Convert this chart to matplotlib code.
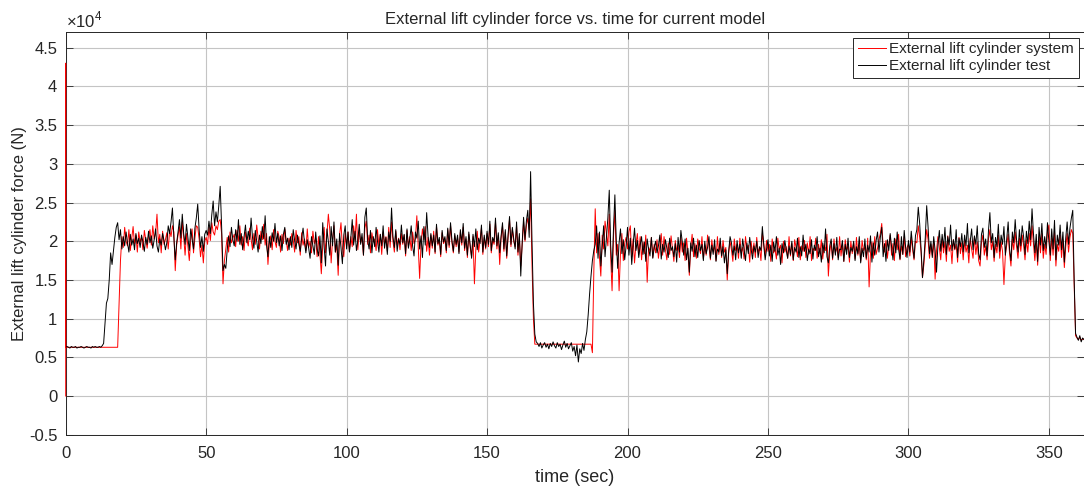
import numpy as np
import matplotlib.pyplot as plt

plt.rcParams['font.family'] = ['Liberation Sans', 'DejaVu Sans']
plt.rcParams['mathtext.fontset'] = 'custom'
plt.rcParams['mathtext.rm'] = 'Liberation Sans'

# sample step of both records (sec)
dt = 0.5

# measured force, kN, one line = 10 s
test_force = [
    6.3, 6.4, 6.3, 6.2, 6.4, 6.3, 6.3, 6.4, 6.2, 6.3, 6.3, 6.4, 6.3, 6.2, 6.3, 6.4, 6.3, 6.3, 6.2, 6.4,
    6.3, 6.4, 6.3, 6.3, 6.4, 6.3, 6.5, 6.8, 9.5, 12.0, 12.6, 15.0, 18.5, 17.0, 18.8, 20.5, 21.8, 22.4, 20.2, 21.5,
    19.0, 20.6, 19.4, 21.2, 19.8, 18.6, 20.9, 19.5, 20.3, 18.9, 21.0, 19.7, 20.4, 19.2, 20.8, 19.9, 18.7, 20.5, 19.6, 21.3,
    19.8, 20.7, 19.1, 20.2, 21.6, 19.4, 18.6, 20.3, 19.5, 21.0, 20.1, 18.9, 19.8, 22.0, 21.0, 22.5, 24.3, 20.5, 17.6, 19.8,
    21.2, 22.8, 20.4, 23.5, 21.0, 19.6, 22.2, 20.5, 18.8, 21.6, 20.3, 19.0, 21.7, 23.0, 24.8, 21.5, 19.2, 20.6, 18.7, 20.9,
    21.4, 20.8, 22.6, 21.0, 23.4, 25.2, 22.0, 23.8, 22.5, 24.6, 27.1, 22.0, 16.2, 17.0, 16.5, 18.9, 20.7, 19.3, 21.8, 20.2,
    19.4, 21.5, 20.0, 22.8, 19.6, 21.0, 18.9, 20.6, 22.1, 19.8, 21.3, 20.2, 23.0, 20.5, 19.1, 21.4, 20.0, 18.6, 20.8, 19.7,
    21.9, 20.3, 23.3, 19.5, 18.0, 20.6, 19.2, 21.1, 20.0, 22.3, 19.8, 21.0, 19.4, 20.7, 18.8, 20.9, 21.8, 19.6, 20.4, 18.9,
    20.6, 19.2, 21.5, 20.1, 19.0, 20.8, 19.6, 18.7, 20.4, 21.7, 19.9, 18.5, 20.2, 19.1, 17.8, 20.6, 19.4, 18.3, 21.2, 19.0,
    18.1, 20.7, 17.2, 22.4, 19.3, 16.8, 21.6, 20.0, 18.2, 21.9, 19.4, 22.5, 18.6, 20.3, 16.9, 21.0, 19.2, 17.1, 20.8, 22.0,
    19.0, 21.2, 18.6, 20.4, 22.8, 19.5, 21.3, 18.8, 20.1, 22.2, 19.6, 21.0, 18.2, 23.1, 24.3, 20.2, 19.0, 21.4, 18.5, 20.6,
    19.3, 21.8, 20.0, 18.6, 20.9, 19.4, 22.0, 19.1, 20.5, 18.3, 21.2, 20.0, 24.3, 20.6, 19.2, 21.5, 18.7, 20.3, 19.6, 22.1,
    19.8, 20.9, 18.4, 21.6, 19.1, 20.3, 22.0, 19.4, 18.1, 21.2, 20.4, 22.6, 19.0, 20.7, 17.9, 21.9, 19.5, 23.7, 20.6, 19.2,
    21.0, 19.4, 20.8, 18.6, 22.2, 19.7, 20.5, 18.3, 21.4, 19.9, 20.6, 18.8, 21.7, 19.5, 22.4, 20.1, 18.7, 21.0, 19.6, 20.8,
    18.4, 21.5, 19.8, 22.3, 19.1, 20.6, 18.2, 21.2, 19.5, 17.8, 20.9, 19.3, 21.6, 18.9, 20.4, 19.7, 22.1, 18.6, 20.8, 19.2,
    21.3, 19.6, 22.6, 18.8, 20.5, 19.9, 23.0, 19.4, 21.1, 18.5, 20.7, 22.4, 19.0, 21.5, 18.1, 20.9, 23.2, 19.6, 21.8, 20.3,
    19.0, 22.5, 18.6, 21.0, 15.5, 19.8, 23.1, 20.2, 22.6, 24.0, 20.5, 29.0, 20.0, 12.0, 8.0, 7.0, 6.8, 6.4, 6.9, 6.2,
    6.6, 6.9, 6.3, 6.7, 6.1, 6.8, 6.4, 7.0, 6.5, 6.2, 6.9, 6.4, 6.7, 6.0, 6.6, 7.1, 6.3, 6.8, 6.1, 6.5,
    6.9, 5.8, 6.4, 5.2, 6.6, 4.4, 6.1, 5.5, 6.8, 5.9, 7.3, 8.3, 10.5, 13.2, 15.5, 17.5, 18.8, 19.6, 22.0, 17.8,
    21.2, 16.8, 19.5, 22.0, 18.0, 20.5, 23.0, 26.6, 19.5, 16.0, 21.5, 26.0, 20.0, 16.5, 19.8, 21.6, 18.4, 20.2, 17.6, 19.4,
    21.8, 18.2, 20.4, 17.0, 19.6, 21.7, 18.8, 20.1, 17.9, 19.5, 20.6, 18.3, 19.9, 17.4, 20.3, 19.0, 18.1, 20.5, 17.8, 19.2,
    20.0, 18.5, 19.4, 20.8, 17.7, 19.6, 18.6, 20.2, 19.1, 17.9, 20.4, 18.8, 19.3, 18.0, 19.7, 17.3, 20.5, 18.6, 21.4, 19.9,
    18.2, 20.3, 17.6, 19.1, 16.0, 19.8, 18.7, 20.4, 18.0, 19.5, 17.9, 20.1, 18.8, 19.6, 17.5, 20.0, 18.4, 19.2, 20.6, 17.8,
    19.5, 18.3, 20.2, 17.4, 19.0, 18.6, 20.4, 18.1, 19.3, 17.2, 18.9, 15.8, 18.7, 20.6, 19.8, 18.2, 19.4, 17.6, 20.1, 18.5,
    19.6, 17.8, 20.3, 18.9, 17.5, 19.8, 18.4, 20.5, 19.0, 17.7, 19.4, 18.6, 20.0, 17.9, 19.3, 18.8, 21.9, 19.5, 17.6, 19.0,
    20.2, 18.1, 19.5, 17.4, 19.9, 18.7, 20.6, 18.2, 19.1, 17.0, 19.7, 18.5, 20.1, 18.9, 17.8, 19.4, 18.3, 20.0, 17.6, 19.2,
    18.6, 20.4, 17.9, 19.3, 18.1, 20.8, 18.7, 19.6, 17.5, 19.0, 18.4, 20.2, 17.7, 19.5, 18.8, 20.6, 18.0, 19.1, 17.3, 19.8,
    18.5, 21.6, 18.0, 17.2, 19.4, 20.3, 17.8, 19.7, 18.2, 20.5, 17.6, 19.0, 18.9, 20.1, 17.4, 19.6, 18.3, 20.4, 17.9, 19.2,
    18.7, 20.0, 17.5, 19.3, 18.4, 20.6, 17.2, 19.1, 18.0, 20.3, 17.8, 19.5, 18.6, 20.7, 17.3, 19.8, 18.2, 20.1, 21.2, 18.6,
    20.5, 21.8, 18.0, 19.7, 17.4, 20.2, 18.8, 21.0, 19.3, 17.6, 20.4, 18.5, 21.2, 19.0, 17.7, 20.6, 18.3, 21.4, 19.2, 17.9,
    20.1, 18.6, 21.3, 19.4, 17.8, 20.7, 21.5, 24.4, 22.3, 19.0, 15.3, 17.6, 20.5, 24.6, 21.8, 18.4, 20.0, 17.9, 20.6, 18.8,
    16.0, 19.5, 21.4, 18.7, 20.9, 19.2, 21.8, 18.3, 20.6, 19.5, 22.1, 18.8, 20.2, 19.0, 21.5, 17.9, 20.4, 19.3, 21.0, 18.6,
    20.8, 19.4, 22.3, 18.5, 20.1, 21.6, 18.9, 20.7, 19.6, 22.0, 18.4, 17.6, 20.9, 21.7, 19.2, 20.3, 18.1, 21.4, 23.7, 19.8,
    21.0, 17.9, 20.5, 19.3, 22.2, 18.7, 20.8, 19.6, 21.9, 18.2, 20.4, 22.5, 19.0, 17.5, 21.2, 19.8, 22.8, 20.1, 18.6, 21.5,
    19.4, 22.0, 20.6, 18.3, 21.3, 19.7, 22.6, 20.2, 24.2, 21.0, 18.5, 20.9, 17.4, 21.8, 19.5, 22.3, 18.8, 20.6, 19.1, 22.4,
    20.0, 18.2, 21.6, 19.0, 22.7, 17.6, 20.8, 19.5, 22.1, 18.9, 21.2, 17.3, 20.4, 22.5, 19.6, 21.7, 23.0, 24.0, 15.0, 8.1,
    7.6, 7.2, 7.8, 7.0, 7.5, 7.3,
]

# model force, kN, same time base
system_force = [
    6.3, 6.3, 6.3, 6.3, 6.3, 6.3, 6.3, 6.3, 6.3, 6.3, 6.3, 6.3, 6.3, 6.3, 6.3, 6.3, 6.3, 6.3, 6.3, 6.3,
    6.3, 6.3, 6.3, 6.3, 6.3, 6.3, 6.3, 6.3, 6.3, 6.3, 6.3, 6.3, 6.3, 6.3, 6.3, 6.3, 6.3, 6.3, 12.0, 17.5,
    20.6, 19.2, 21.8, 20.0, 19.4, 21.5, 18.8, 20.3, 21.9, 19.6, 20.8, 18.6, 21.2, 19.9, 20.5, 18.9, 21.4, 20.2, 19.1, 20.7,
    21.5, 19.5, 22.0, 20.3, 21.0, 23.5, 19.8, 20.9, 18.5, 21.3, 19.6, 20.2, 21.1, 19.0, 21.4, 20.6, 22.0, 21.2, 16.2, 19.5,
    20.8, 21.9, 19.0, 22.5, 20.6, 18.2, 21.0, 19.4, 17.5, 20.2, 21.6, 18.5, 20.4, 22.0, 21.8, 20.3, 18.0, 19.5, 17.2, 20.0,
    20.5, 19.6, 21.8, 20.1, 22.4, 21.2, 20.8, 22.0, 21.5, 22.6, 22.8, 21.0, 14.5, 17.5, 19.0, 20.5, 18.6, 21.2, 19.8, 20.4,
    20.9, 19.3, 21.4, 20.0, 22.0, 19.5, 20.6, 18.8, 21.2, 20.1, 19.4, 21.7, 20.3, 18.9, 21.0, 19.6, 22.1, 20.4, 19.0, 21.3,
    20.2, 22.2, 19.5, 21.0, 17.0, 19.8, 20.7, 18.9, 21.5, 20.0, 19.2, 21.3, 20.5, 18.6, 20.9, 19.7, 21.6, 20.1, 18.8, 20.4,
    19.5, 21.0, 20.2, 18.6, 21.4, 19.8, 20.6, 18.2, 21.1, 19.5, 20.3, 18.8, 21.6, 19.2, 20.0, 18.5, 21.3, 19.7, 20.4, 18.0,
    20.6, 18.4, 15.8, 19.4, 21.8, 18.5, 20.9, 23.5, 21.5, 17.2, 20.2, 22.0, 18.6, 19.5, 15.6, 20.8, 22.4, 19.2, 18.0, 21.0,
    19.4, 21.2, 18.7, 20.6, 19.3, 22.0, 20.1, 23.5, 18.9, 21.4, 19.8, 20.5, 18.2, 21.7, 22.6, 19.6, 20.8, 18.5, 21.1, 19.9,
    20.3, 18.8, 21.5, 19.4, 20.9, 18.3, 21.2, 19.7, 20.6, 18.7, 21.8, 19.2, 22.5, 20.0, 18.6, 21.3, 19.5, 20.4, 18.9, 21.0,
    19.6, 20.8, 18.1, 21.4, 19.3, 20.6, 18.8, 21.2, 19.7, 20.3, 23.3, 19.1, 15.2, 19.8, 21.6, 20.2, 21.9, 18.7, 20.5, 18.2,
    20.8, 19.1, 21.3, 18.4, 21.9, 19.5, 20.2, 18.0, 21.1, 19.7, 20.3, 18.5, 21.5, 19.2, 22.0, 19.8, 18.5, 20.7, 19.3, 20.5,
    18.6, 21.2, 19.5, 21.8, 18.8, 20.3, 17.9, 20.9, 19.2, 18.0, 20.6, 14.5, 19.0, 21.3, 18.6, 20.1, 21.7, 18.3, 20.5, 19.0,
    21.0, 19.3, 22.2, 18.5, 20.2, 19.6, 22.5, 19.0, 20.8, 17.0, 20.4, 22.0, 18.7, 21.2, 17.8, 20.6, 22.8, 19.3, 21.5, 20.0,
    19.3, 22.0, 18.2, 20.6, 16.8, 19.5, 22.5, 20.0, 22.0, 23.0, 21.5, 25.5, 17.0, 10.0, 6.7, 6.7, 6.7, 6.7, 6.7, 6.7,
    6.7, 6.7, 6.7, 6.7, 6.7, 6.7, 6.7, 6.7, 6.7, 6.7, 6.7, 6.7, 6.7, 6.7, 6.7, 6.7, 6.7, 6.7, 6.7, 6.7,
    6.7, 6.7, 6.7, 6.7, 6.7, 6.7, 6.7, 6.7, 6.7, 6.7, 6.7, 6.7, 6.7, 6.7, 6.7, 5.6, 16.0, 24.2, 18.5, 21.0,
    18.0, 15.5, 20.8, 19.0, 22.6, 21.0, 19.4, 23.5, 18.0, 13.6, 20.5, 24.0, 18.2, 19.6, 13.6, 18.5, 21.0, 17.5, 19.8, 20.5,
    19.0, 21.2, 22.0, 18.0, 20.3, 17.2, 19.6, 21.0, 18.3, 20.6, 17.6, 19.9, 18.4, 20.8, 14.7, 19.2, 18.7, 20.5, 17.9, 19.6,
    18.5, 20.2, 17.8, 19.4, 21.0, 18.2, 20.6, 18.9, 17.6, 19.8, 18.3, 20.7, 19.0, 17.4, 20.1, 18.8, 19.5, 17.9, 20.5, 18.6,
    19.8, 17.5, 20.4, 18.6, 15.6, 19.2, 20.9, 18.0, 19.7, 17.8, 20.3, 19.1, 18.4, 20.6, 17.7, 19.5, 18.2, 20.8, 19.3, 17.6,
    20.2, 18.7, 19.4, 17.5, 20.6, 18.3, 19.8, 17.9, 20.1, 18.6, 19.2, 15.0, 18.4, 20.0, 18.9, 17.4, 20.3, 18.8, 19.6, 17.8,
    20.4, 18.5, 19.2, 17.7, 20.6, 18.9, 19.5, 17.3, 20.0, 18.4, 19.8, 17.9, 20.5, 18.6, 19.1, 17.5, 21.0, 19.7, 18.2, 20.1,
    18.7, 19.6, 17.4, 20.3, 18.5, 19.0, 17.7, 20.4, 18.9, 19.5, 17.2, 20.0, 18.6, 19.3, 17.8, 20.6, 18.1, 19.7, 17.5, 20.2,
    19.2, 18.0, 20.5, 17.6, 19.4, 18.7, 20.1, 17.9, 19.8, 18.3, 20.6, 17.5, 19.1, 18.8, 20.4, 17.8, 19.6, 18.4, 20.2, 17.7,
    19.5, 18.8, 20.9, 15.5, 18.6, 19.9, 17.6, 20.3, 18.5, 19.2, 17.9, 20.6, 18.1, 19.7, 17.4, 20.2, 18.9, 19.4, 17.3, 20.0,
    18.4, 19.8, 17.7, 20.5, 18.2, 19.5, 17.4, 20.1, 18.8, 19.3, 17.6, 20.4, 14.1, 18.5, 19.9, 17.8, 20.6, 18.3, 19.1, 20.2,
    21.0, 22.3, 19.4, 18.6, 20.1, 17.8, 19.5, 20.8, 18.2, 19.7, 17.5, 20.3, 18.9, 20.9, 17.6, 19.4, 18.3, 20.6, 18.0, 19.2,
    19.6, 18.1, 20.5, 18.9, 17.6, 20.0, 19.8, 22.0, 20.5, 18.6, 15.3, 17.0, 19.5, 21.5, 20.2, 17.8, 19.6, 18.2, 20.0, 15.1,
    18.8, 20.6, 19.2, 17.6, 20.3, 18.5, 19.9, 17.4, 20.7, 18.7, 19.5, 17.1, 20.2, 18.9, 19.6, 17.3, 20.5, 18.4, 19.8, 17.6,
    20.1, 18.6, 19.5, 17.2, 20.4, 19.0, 17.8, 20.6, 18.3, 19.9, 17.5, 16.8, 19.8, 20.8, 18.2, 19.4, 17.6, 20.3, 21.5, 18.9,
    20.0, 17.4, 19.6, 18.5, 20.8, 17.8, 19.9, 18.7, 14.4, 18.2, 19.6, 20.9, 18.4, 16.8, 20.3, 18.9, 21.2, 19.3, 17.8, 20.4,
    18.7, 20.8, 19.5, 17.6, 20.2, 18.6, 21.0, 19.4, 22.0, 19.8, 17.5, 19.9, 16.9, 20.6, 18.5, 21.0, 17.8, 19.6, 18.3, 21.2,
    22.1, 17.5, 20.4, 18.2, 21.3, 16.8, 19.6, 18.7, 20.8, 17.9, 20.2, 16.6, 19.3, 21.0, 18.6, 20.5, 21.5, 21.0, 14.5, 7.8,
    7.5, 7.3, 7.6, 7.2, 7.4, 7.3,
]

# start-up transient of the model at t = 0
system_start_t = [0.0, 0.0]
system_start = [0.0, 43.0]

ytick_labels = ['-0.5', '0', '0.5', '1', '1.5', '2', '2.5', '3', '3.5', '4', '4.5']

t_test = np.arange(len(test_force)) * dt
t_sys = np.r_[system_start_t, np.arange(len(system_force)) * dt]
f_sys = np.r_[system_start, system_force] * 1000
f_test = np.array(test_force) * 1000

txt = '#262626'
fig = plt.figure(figsize=(10.84, 4.86), dpi=100)
ax = fig.add_axes([0.0606, 0.1055, 0.9394, 0.828])

ax.plot(t_sys, f_sys, color='red', lw=0.7, zorder=3, clip_on=False,
        label='External lift cylinder system')
ax.plot(t_test, f_test, color='black', lw=0.7, zorder=3.1,
        label='External lift cylinder test')

ax.set_xlim(0, 362.5)
ax.set_ylim(-5000, 47000)
ax.set_xticks(np.arange(0, 351, 50))
ax.set_yticks(np.arange(-5000, 45001, 5000))
ax.set_yticklabels(ytick_labels)
ax.grid(True, color='#c4c4c4', lw=0.8)
ax.set_axisbelow(True)
ax.tick_params(direction='in', top=True, right=True, length=5, width=0.6,
               colors=txt, labelsize=12)
ax.tick_params(axis='x', pad=8)
ax.tick_params(axis='y', pad=6)
for s in ax.spines.values():
    s.set_color(txt)
    s.set_linewidth(0.7)

ax.text(0.0, 1.004, r'$\times10^{4}$', transform=ax.transAxes,
        ha='left', va='bottom', fontsize=12, color=txt)
ax.set_title('External lift cylinder force vs. time for current model',
             fontsize=12, color=txt, pad=6)
ax.set_xlabel('time (sec)', fontsize=13, color=txt, labelpad=6)
ax.set_ylabel('External lift cylinder force (N)', fontsize=12, color=txt, labelpad=1)

leg = ax.legend(loc='upper right', fontsize=11, fancybox=False, framealpha=1,
                edgecolor=txt, borderaxespad=0.35, handlelength=1.8,
                handletextpad=0.25, labelspacing=0.2, borderpad=0.3)
leg.get_frame().set_linewidth(0.7)
for t in leg.get_texts():
    t.set_color(txt)

fig.savefig('out.png', dpi=100)
